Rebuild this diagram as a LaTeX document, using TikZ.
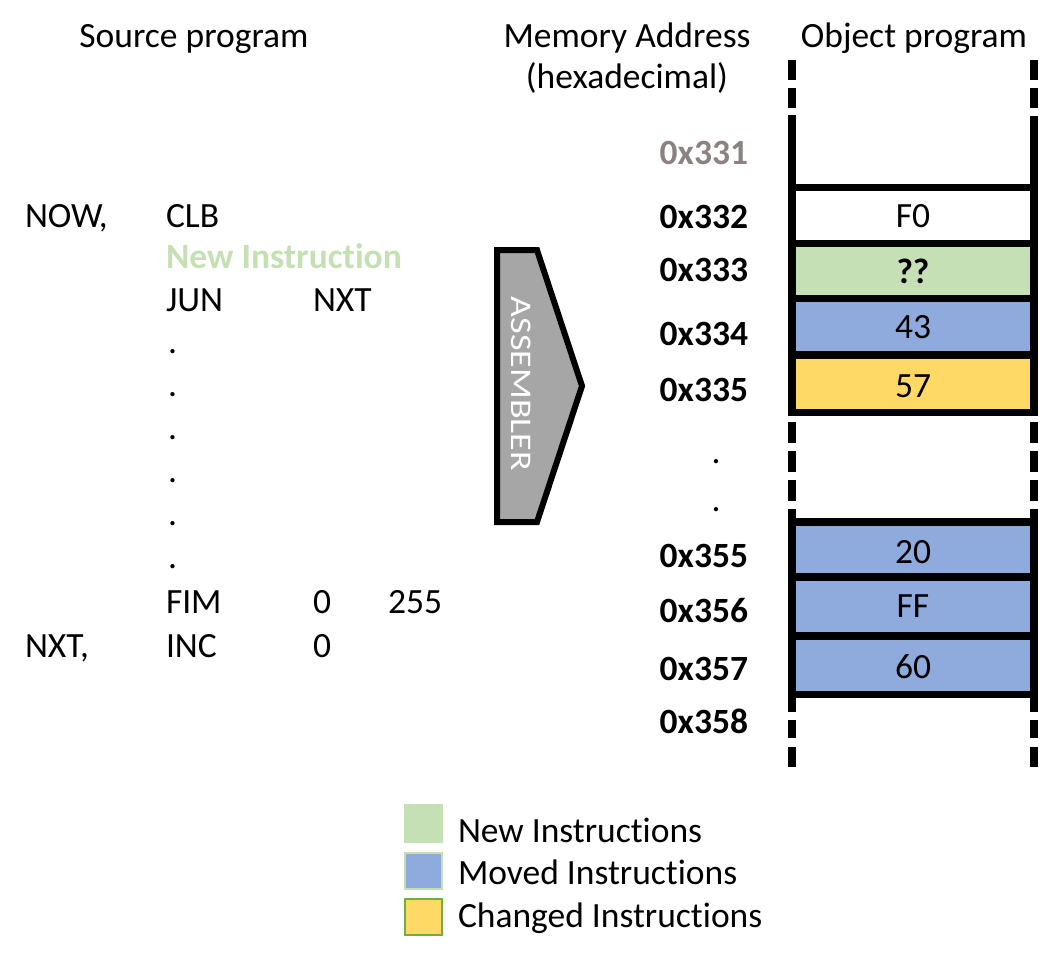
\documentclass[tikz,border=0pt]{standalone}
\usepackage{fontspec}
\setmainfont{Carlito}[Ligatures=NoCommon]
\definecolor{newc}{HTML}{C5E0B4}
\definecolor{movc}{HTML}{8FAADC}
\definecolor{chgc}{HTML}{FFD966}
\definecolor{legbd}{HTML}{70AD47}
\definecolor{addrgray}{HTML}{8C8282}
\definecolor{asmgray}{HTML}{A6A6A6}
\begin{document}
\begin{tikzpicture}[x=1pt,y=-1pt,
  every node/.style={inner sep=0pt, outer sep=0pt, font=\fontsize{35.5}{42}\selectfont},
  txt/.style={anchor=base west},
  ctxt/.style={anchor=base},
  addr/.style={anchor=base east, font=\fontsize{35.5}{42}\selectfont\bfseries},
  cellbox/.style={draw=black, line width=7.5pt},
  colline/.style={line width=7.5pt},
  dashline/.style={line width=7.5pt, dash pattern=on 20pt off 8pt},
  legbox/.style={line width=2pt}]
\useasboundingbox (0,0) rectangle (1052,964);

% headings
\node[ctxt] (hsrc) at (194,47) {Source program};
\node[ctxt] (hmem) at (627,47) {Memory Address};
\node[ctxt] (hhex) at (627,88) {(hexadecimal)};
\node[ctxt] (hobj) at (914,47) {Object program};

% source program
\node[txt] (l1a) at (25,227) {NOW,};
\node[txt] (l1b) at (166,227) {CLB};
\node[txt, font=\fontsize{35.5}{42}\selectfont\bfseries, text=newc] (l2) at (166,268) {New Instruction};
\node[txt] (l3a) at (166,311) {JUN};
\node[txt] (l3b) at (313,311) {NXT};
\foreach \i/\y in {1/353,2/396,3/439,4/482,5/525,6/568}
  \node[txt] (dot\i) at (168,\y) {.};
\node[txt] (l4a) at (166,613) {FIM};
\node[txt] (l4b) at (313,613) {0};
\node[txt] (l4c) at (388,613) {255};
\node[txt] (l5a) at (25,657) {NXT,};
\node[txt] (l5b) at (166,657) {INC};
\node[txt] (l5c) at (313,657) {0};

% assembler
\draw[line width=6pt, fill=asmgray, line join=miter]
  (497,250) -- (537,250) -- (582,386) -- (537,522) -- (497,522) -- cycle;
\node[text=white, font=\fontsize{30}{32}\selectfont] (asm) at (521,384)
  {\rotatebox{-90}{\scalebox{1.2}[1]{ASSEMBLER}}};

% addresses
\node[addr, text=addrgray] (a331) at (748,164) {0x331};
\node[addr] (a332) at (748,228) {0x332};
\node[addr] (a333) at (748,281) {0x333};
\node[addr] (a334) at (748,345) {0x334};
\node[addr] (a335) at (748,401) {0x335};
\node[ctxt] (adot1) at (716,463) {.};
\node[ctxt] (adot2) at (716,511) {.};
\node[addr] (a355) at (748,567) {0x355};
\node[addr] (a356) at (748,622) {0x356};
\node[addr] (a357) at (748,680) {0x357};
\node[addr] (a358) at (748,733) {0x358};

% object program column
\draw[dashline] (792,60) -- (792,128);
\draw[dashline] (1034,60) -- (1034,128);
\draw[colline] (792,115) -- (792,187.5);
\draw[colline] (1034,126) -- (1034,187.5);

\draw[cellbox, fill=white] (792,187.5) rectangle (1034,243.5);
\draw[cellbox, fill=newc] (792,243.5) rectangle (1034,298.5);
\draw[cellbox, fill=movc] (792,298.5) rectangle (1034,355);
\draw[cellbox, fill=chgc] (792,355) rectangle (1034,412.5);

\draw[line width=7.5pt, dash pattern=on 21pt off 8pt] (792,422) -- (792,518);
\draw[line width=7.5pt, dash pattern=on 21pt off 8pt] (1034,422) -- (1034,518);

\draw[cellbox, fill=movc] (792,522) rectangle (1034,577);
\draw[cellbox, fill=movc] (792,577) rectangle (1034,636);
\draw[cellbox, fill=movc] (792,636) rectangle (1034,694.5);

\draw[line width=7.5pt, dash pattern=on 14pt off 8pt on 18pt off 9pt on 20pt off 8pt] (792,698) -- (792,767);
\draw[line width=7.5pt, dash pattern=on 14pt off 8pt on 18pt off 9pt on 20pt off 8pt] (1034,698) -- (1034,767);

\node[ctxt] (v332) at (913,227) {F0};
\node[ctxt, font=\fontsize{35.5}{42}\selectfont\bfseries] (v333) at (913,283) {??};
\node[ctxt] (v334) at (913,338) {43};
\node[ctxt] (v335) at (913,397) {57};
\node[ctxt] (v355) at (913,563) {20};
\node[ctxt] (v356) at (913,617) {FF};
\node[ctxt] (v357) at (913,678) {60};

% legend
\fill[newc] (404,804) rectangle (443,843);
\draw[legbox, draw=newc, fill=movc] (405,853) rectangle (442,889);
\draw[legbox, draw=legbd, fill=chgc] (405,899) rectangle (442,935);
\node[txt] (lg1) at (458,842) {New Instructions};
\node[txt] (lg2) at (458,884) {Moved Instructions};
\node[txt] (lg3) at (458,927) {Changed Instructions};
\end{tikzpicture}
\end{document}
